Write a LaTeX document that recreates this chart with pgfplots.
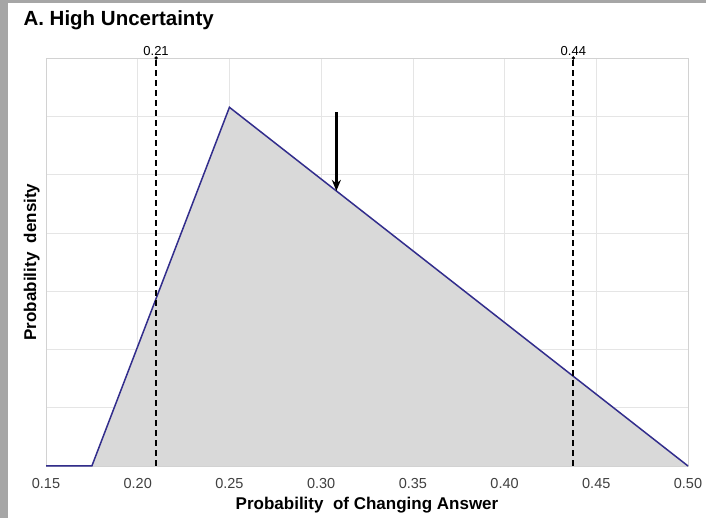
\documentclass[border=0pt]{standalone}
\usepackage{pgfplots}
\pgfplotsset{compat=1.18}
\usepackage{fontspec}
\setmainfont{Liberation Sans}
\usetikzlibrary{arrows.meta}
\definecolor{navyline}{RGB}{50,45,140}
\definecolor{fillgray}{RGB}{217,217,217}
\begin{document}
\begin{tikzpicture}[x=1pt,y=1pt]
\useasboundingbox (0,0) rectangle (706,518);
\fill[white] (0,0) rectangle (706,518);
\fill[gray!70] (0,0) rectangle (8,518);
\fill[gray!70] (0,515) rectangle (706,518);
\node[anchor=west, font=\fontsize{20.5}{24}\selectfont\bfseries] at (20,498) {A. High Uncertainty};
\begin{axis}[
  at={(46pt,52pt)}, anchor=south west,
  scale only axis, width=642pt, height=408pt,
  xmin=0.15, xmax=0.5, ymin=0, ymax=7,
  xtick={0.15,0.20,0.25,0.30,0.35,0.40,0.45,0.50},
  xticklabels={0.15,0.20,0.25,0.30,0.35,0.40,0.45,0.50},
  ytick={0,1,2,3,4,5,6,7}, yticklabels={},
  major tick length=0pt,
  grid=major, grid style={gray!20, line width=0.6pt},
  axis line style={gray!35, line width=0.6pt},
  xticklabel style={font=\fontsize{14.5}{16}\selectfont, text=black!75, yshift=-9pt},
  xlabel={Probability\ \ of Changing Answer},
  ylabel={Probability\ \ density},
  xlabel style={font=\fontsize{17}{19}\selectfont\bfseries, yshift=-2pt},
  ylabel style={font=\fontsize{17}{19}\selectfont\bfseries, yshift=-4pt},
  clip=false,
]
\addplot[fill=fillgray, draw=none] coordinates {(0.175,0) (0.25,6.154) (0.5,0)} \closedcycle;
\addplot[navyline, line width=1.5pt] coordinates {(0.15,0) (0.175,0) (0.25,6.154) (0.5,0)};
\addplot[black, line width=1.8pt, dash pattern=on 6pt off 4pt] coordinates {(0.21,0) (0.21,7)};
\addplot[black, line width=1.8pt, dash pattern=on 6pt off 4pt] coordinates {(0.4375,0) (0.4375,7)};
\addplot[black, only marks, mark=*, mark size=1.5pt] coordinates {(0.21,7) (0.4375,7)};
\node[above, font=\fontsize{13}{15}\selectfont, inner sep=2pt] at (axis cs:0.21,7) {0.21};
\node[above, font=\fontsize{13}{15}\selectfont, inner sep=2pt] at (axis cs:0.4375,7) {0.44};
\addplot[black, line width=2.8pt, -{Stealth[length=11pt,width=9pt]}] coordinates {(0.3083,6.07) (0.3083,4.72)};
\end{axis}
\end{tikzpicture}
\end{document}
